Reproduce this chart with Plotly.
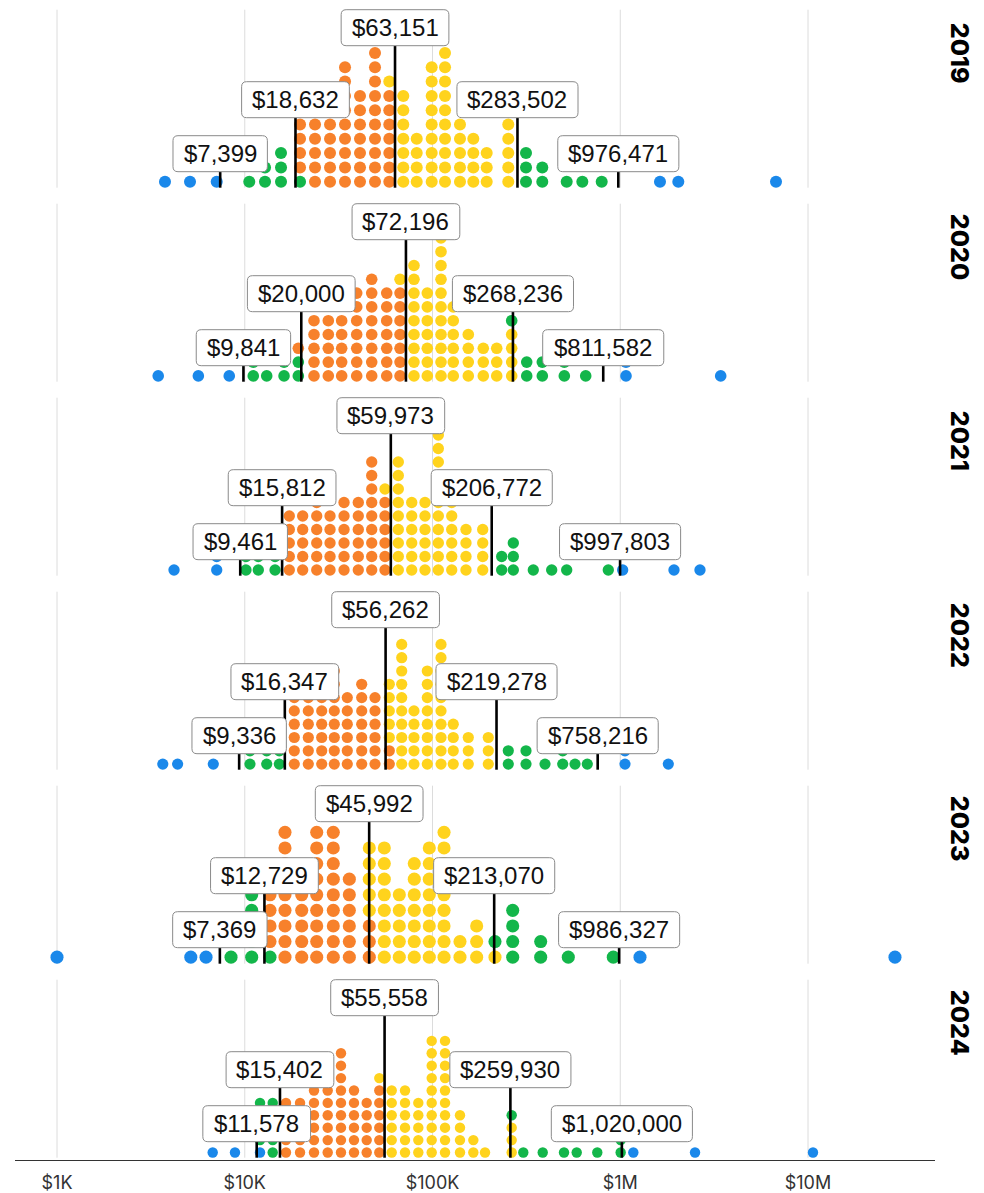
import math
import plotly.graph_objects as go

YEARS = [2019, 2020, 2021, 2022, 2023, 2024]

# Percentile cut-offs per year: 5th, 25th, 50th (median), 75th, 95th
P_2019 = [7399, 18632, 63151, 283502, 976471]
P_2020 = [9841, 20000, 72196, 268236, 811582]
P_2021 = [9461, 15812, 59973, 206772, 997803]
P_2022 = [9336, 16347, 56262, 219278, 758216]
P_2023 = [7369, 12729, 45992, 213070, 986327]
P_2024 = [11578, 15402, 55558, 259930, 1020000]

# Dot columns: amount (USD) at the column and number of dots stacked in it
AMT_2019 = [3760, 5110, 7090, 10570, 12820, 15600, 19700, 23670, 28460, 34200,
            41100, 49400, 58880, 69900, 82400, 99000, 116600, 140100, 165000,
            194400, 253300, 314800, 384400, 518500, 628100, 796500, 1628000,
            2038000, 6754000]
CNT_2019 = [1, 1, 1, 1, 2, 3, 5, 5, 5, 9, 7, 10, 8, 7, 4, 9, 10, 5, 4, 3, 5, 3,
            2, 1, 1, 1, 1, 1, 1]

AMT_2020 = [3460, 5660, 8270, 11100, 13090, 16190, 19290, 23380, 27860, 32830,
            39470, 47450, 57030, 67140, 79680, 93820, 111000, 129000, 155100,
            186400, 219800, 264100, 317600, 384500, 503600, 654700, 1073000,
            3428000]
CNT_2020 = [1, 1, 1, 2, 1, 2, 3, 5, 5, 5, 7, 8, 7, 8, 9, 7, 11, 6, 4, 3, 3, 5,
            2, 2, 2, 1, 2, 1]

AMT_2021 = [4200, 7090, 10150, 11810, 14500, 17270, 20350, 24170, 28460, 33790,
            40250, 47450, 55850, 65750, 77500, 91210, 107400, 126600, 150800,
            185100, 233600, 269400, 344200, 431400, 518500, 863700, 1030000,
            1933000, 2659000]
CNT_2021 = [1, 2, 2, 2, 2, 5, 5, 6, 5, 6, 6, 9, 7, 9, 6, 6, 11, 6, 4, 4, 2, 3,
            1, 1, 1, 1, 1, 1, 1]

AMT_2022 = [3660, 4390, 6800, 10660, 13090, 15280, 18360, 21800, 25700, 29990,
            35170, 41970, 49400, 58880, 68550, 79680, 93820, 111000, 129000,
            155100, 198200, 253300, 314800, 397400, 493800, 574200, 667600,
            1060000, 1803000]
CNT_2022 = [1, 1, 1, 2, 2, 2, 6, 6, 6, 8, 6, 7, 6, 7, 10, 5, 8, 10, 4, 3, 3, 2,
            2, 1, 2, 1, 1, 2, 1]

AMT_2023 = [1000, 5160, 6220, 8450, 10890, 13630, 16380, 20110, 24170, 29620,
            36060, 46060, 55370, 66560, 79980, 96150, 115200, 140100, 171900,
            215200, 267400, 376900, 528800, 918200, 1274000, 29060000]
CNT_2023 = [1, 1, 1, 1, 5, 5, 9, 5, 9, 9, 6, 8, 8, 5, 7, 8, 9, 2, 3, 2, 4, 2, 1,
            1, 1, 1]

AMT_2024 = [6750, 8870, 12060, 14090, 16580, 19700, 23380, 27660, 32550, 38180,
            44620, 52070, 60640, 71380, 84030, 99020, 116600, 140100, 165000,
            190400, 264100, 304500, 386400, 501700, 586300, 754600, 1005000,
            1174000, 2502000, 10630000]
CNT_2024 = [1, 1, 5, 5, 5, 5, 6, 6, 9, 6, 5, 7, 6, 6, 5, 10, 10, 4, 2, 1, 4, 1,
            1, 1, 1, 1, 2, 1, 1, 1]

# Columns that straddle a cut-off: number of bottom dots below that cut-off
SPLIT_2019 = {19700: 1, 58880: 7}
SPLIT_2020 = {19290: 2, 67140: 7, 264100: 4}
SPLIT_2021 = {55850: 6}
SPLIT_2022 = {58880: 2}
SPLIT_2023 = {13630: 1, 46060: 3, 215200: 1}
SPLIT_2024 = {12060: 1, 52070: 6, 264100: 3}

ROWS = {
    2019: (P_2019, AMT_2019, CNT_2019, SPLIT_2019),
    2020: (P_2020, AMT_2020, CNT_2020, SPLIT_2020),
    2021: (P_2021, AMT_2021, CNT_2021, SPLIT_2021),
    2022: (P_2022, AMT_2022, CNT_2022, SPLIT_2022),
    2023: (P_2023, AMT_2023, CNT_2023, SPLIT_2023),
    2024: (P_2024, AMT_2024, CNT_2024, SPLIT_2024),
}

TICK_VALS = [1e3, 1e4, 1e5, 1e6, 1e7]
TICK_TEXT = ["$1K", "$10K", "$100K", "$1M", "$10M"]

# ---- styling -------------------------------------------------------------
BLUE, GREEN, ORANGE, YELLOW = "#1a88ea", "#13b64a", "#f7812b", "#ffd31d"
BAND_COLORS = [BLUE, GREEN, ORANGE, YELLOW, GREEN, BLUE]
DOT_STEP = [14.3, 13.8, 13.5, 13.3, 15.6, 12.4]   # px between stacked dots
DOT_FILL = 0.84                                     # dot diameter / step

W, H = 984, 1193
M_L, M_R, M_T, M_B = 15, 49, 0, 33
AXIS_Y = H - M_B - M_T
FIRST_FLOOR = 187.7
ROW_PITCH = 194.0
ROW_SPAN = 178
LABEL_TOPS = [52, 106, 178]      # label-box top, px above the row floor
TIER = [0, 1, 2, 1, 0]           # tier of each percentile label
BOX_H = 36
BOX_PAD = 10.5
BOX_R = 5
LABEL_FONT = "Liberation Sans, Arial, sans-serif"
LABEL_SIZE = 24
PX_PER_DECADE = 187.75
X_MIN = 3 - (57 - M_L) / PX_PER_DECADE
X_MAX = X_MIN + (W - M_L - M_R) / PX_PER_DECADE


def band(v, cuts):
    return sum(v >= c for c in cuts)


def text_width(s, size):
    return size * sum(0.278 if ch == "," else 0.556 for ch in s)


def rounded_box(w, top, bottom, r):
    h = w / 2
    return (f"M {-h + r},{top} L {h - r},{top} Q {h},{top} {h},{top + r} "
            f"L {h},{bottom - r} Q {h},{bottom} {h - r},{bottom} "
            f"L {-h + r},{bottom} Q {-h},{bottom} {-h},{bottom - r} "
            f"L {-h},{top + r} Q {-h},{top} {-h + r},{top} Z")


fig = go.Figure()
shapes, annotations = [], []

for r, year in enumerate(YEARS):
    cuts, amts, cnts, split = ROWS[year]
    floor = FIRST_FLOOR + r * ROW_PITCH
    step = DOT_STEP[r]
    size = DOT_FILL * step

    # decade gridlines for this panel
    for d in TICK_VALS:
        shapes.append(dict(type="line", xref="x", yref="y", x0=d, x1=d,
                           y0=floor - ROW_SPAN, y1=floor, layer="below",
                           line=dict(color="#dcdcdc", width=1)))

    # stacked dots
    xs, ys, cs = [], [], []
    for a, n in zip(amts, cnts):
        if a in split:
            c = min(cuts, key=lambda c: abs(math.log(a / c)))
            lo = band(c * 0.999, cuts)
            bands = [lo if i < split[a] else lo + 1 for i in range(n)]
        else:
            bands = [band(a, cuts)] * n
        for i, b in enumerate(bands):
            xs.append(a)
            ys.append(floor - size / 2 - i * step)
            cs.append(BAND_COLORS[b])
    fig.add_trace(go.Scatter(
        x=xs, y=ys, mode="markers", showlegend=False, hoverinfo="x",
        marker=dict(size=size, color=cs, line=dict(width=0))))

    # percentile markers and their labels
    lx, ly = [], []
    for j, p in enumerate(cuts):
        top = floor - LABEL_TOPS[TIER[j]]
        bottom = top + BOX_H
        lx += [p, p, None]
        ly += [floor, bottom, None]
        label = f"${p:,}"
        w = text_width(label, LABEL_SIZE) + 2 * BOX_PAD
        shapes.append(dict(type="path", xref="x", yref="y", xsizemode="pixel",
                           xanchor=p, path=rounded_box(w, top, bottom, BOX_R),
                           fillcolor="white", layer="above",
                           line=dict(color="#8a8a8a", width=1)))
        annotations.append(dict(x=math.log10(p), y=(top + bottom) / 2,
                                xref="x", yref="y", text=label, showarrow=False,
                                xanchor="center", yanchor="middle",
                                font=dict(family=LABEL_FONT, size=LABEL_SIZE,
                                          color="#111111")))
    fig.add_trace(go.Scatter(x=lx, y=ly, mode="lines", showlegend=False,
                             hoverinfo="skip",
                             line=dict(color="#000000", width=2.6)))

    # year title on the right
    annotations.append(dict(x=(960 - M_L) / (W - M_L - M_R), xref="paper",
                            y=floor - 135, yref="y", text=str(year),
                            textangle=90, showarrow=False,
                            xanchor="center", yanchor="middle",
                            font=dict(family="Inter, Roboto, sans-serif",
                                      size=25, weight=800, color="#000000")))

fig.update_layout(
    width=W, height=H,
    margin=dict(l=M_L, r=M_R, t=M_T, b=M_B),
    paper_bgcolor="white", plot_bgcolor="white",
    shapes=shapes, annotations=annotations,
    hovermode="closest",
    xaxis=dict(type="log", range=[X_MIN, X_MAX], tickvals=TICK_VALS,
               ticktext=TICK_TEXT, showgrid=False, zeroline=False,
               showline=True, linecolor="#333333", linewidth=1,
               ticks="outside", ticklen=6, tickcolor="rgba(0,0,0,0)",
               tickfont=dict(family="Inter, Roboto, sans-serif", size=18,
                             color="#333333"),
               fixedrange=True),
    yaxis=dict(range=[AXIS_Y, 0], visible=False, fixedrange=True),
)

fig.write_html("out.html")
